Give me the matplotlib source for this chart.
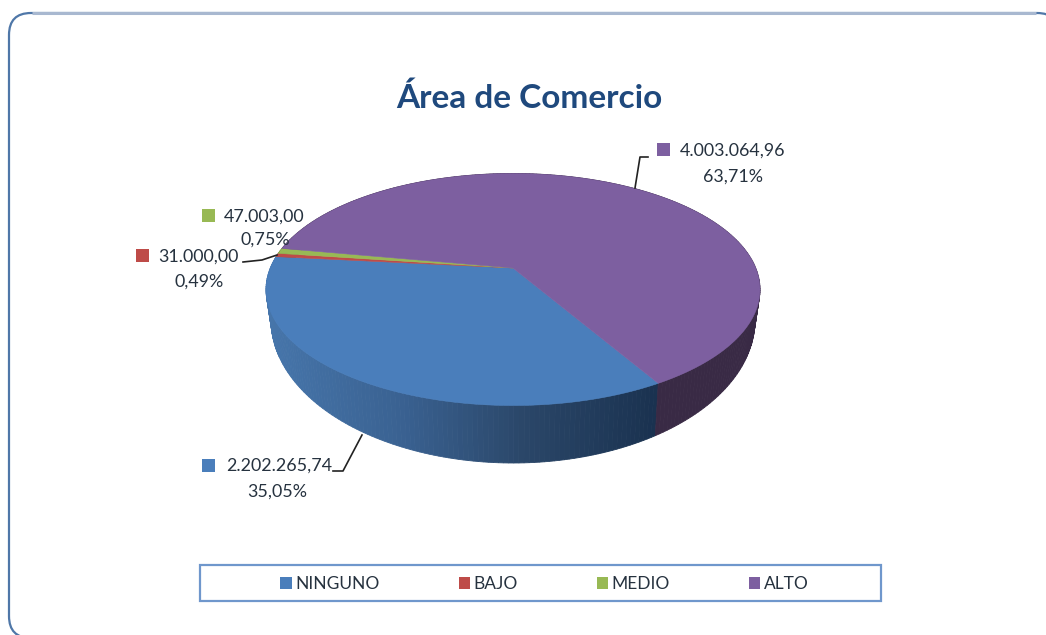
import matplotlib
matplotlib.use("Agg")
import matplotlib.pyplot as plt
import numpy as np
from matplotlib.colors import LinearSegmentedColormap
from matplotlib.patches import FancyBboxPatch, Patch, Rectangle

plt.rcParams['font.family'] = ['Lato', 'DejaVu Sans']

categories = ['NINGUNO', 'BAJO', 'MEDIO', 'ALTO']
values = [2202265.74, 31000.00, 47003.00, 4003064.96]
colors = ['#4a7ebb', '#be4b48', '#98b954', '#7d5fa0']
side_colors = [None, '#5c2523', '#4a5a28', '#392a45']

# gradient on the front of the blue slice, left to right
blue_side = LinearSegmentedColormap.from_list(
    'blue_side', ['#4675aa', '#3a6292', '#2a4668', '#1a3250'])

# label placement: square, text start, percent centre, all per category
label_square = [(202, 459), (136, 249), (202, 209), (657, 143)]
label_text = [(226, 466), (158, 257), (224, 217), (680, 151)]
label_pct = [(277, 492), (199, 282), (265, 240), (733, 177)]
leaders = [
    ([362, 343, 333], [435, 471, 471]),
    ([277, 262, 243], [255, 260, 262]),
    None,
    ([635, 640, 648], [188, 157, 157]),
]

# top face and the wider lower rim of the pie, in pixels
cx, cy, rx, ry = 513, 289.5, 247, 116
low_cy, low_rx, low_ry = 320, 242, 143
apex_y = 268
tilt = 0.093
start_angle = -59.8


def warp(theta):
    # perspective: moves the pie centre towards the back, keeps the rim on the ellipse
    z = np.exp(1j * np.radians(theta))
    w = (z + 1j * tilt) / (1 - 1j * tilt * z)
    return w.real, w.imag


def spanish(v):
    return f'{v:,.2f}'.replace(',', '#').replace('.', ',').replace('#', '.')


fig = plt.figure(figsize=(10.46, 6.35), dpi=100)
ax = fig.add_axes([0, 0, 1, 1])
ax.set_xlim(0, 1046)
ax.set_ylim(635, 0)
ax.axis('off')

# chart frame, it runs off the picture at the right and the bottom
ax.add_patch(FancyBboxPatch((9, 13), 1050, 625, boxstyle='round,pad=0,rounding_size=22',
                            fc='white', ec='#4f77a8', lw=1.6))
ax.plot([32, 1036], [13, 13], color='#a8b8d0', lw=2.2, solid_capstyle='butt')

total = sum(values)
shares = [v / total for v in values]
edges = start_angle - 360 * np.concatenate([[0], np.cumsum(shares)])

# side wall first, the top face covers the back part
for i in range(len(values)):
    n = max(int(abs(edges[i + 1] - edges[i])), 2)
    th = np.linspace(edges[i], edges[i + 1], n + 1)
    c, s = warp(th)
    for j in range(n):
        xs = [cx + rx * c[j], cx + rx * c[j + 1], cx + low_rx * c[j + 1], cx + low_rx * c[j]]
        ys = [cy - ry * s[j], cy - ry * s[j + 1], low_cy - low_ry * s[j + 1], low_cy - low_ry * s[j]]
        if side_colors[i] is None:
            col = blue_side(np.clip((np.mean(xs) - 271) / (655 - 271), 0, 1))
        else:
            col = side_colors[i]
        ax.fill(xs, ys, color=col, lw=0.6, zorder=2)

for i in range(len(values)):
    n = max(int(abs(edges[i + 1] - edges[i])), 2)
    c, s = warp(np.linspace(edges[i], edges[i + 1], n + 1))
    xs = np.concatenate([[cx], cx + rx * c])
    ys = np.concatenate([[apex_y], cy - ry * s])
    ax.fill(xs, ys, color=colors[i], lw=0.4, zorder=3)

# data labels
for i in range(len(values)):
    sx, sy = label_square[i]
    ax.add_patch(Rectangle((sx, sy), 13, 13, fc=colors[i], ec='none', zorder=4))
    ax.text(label_text[i][0], label_text[i][1], spanish(values[i]), fontsize=12.9,
            color='#26323f', ha='left', va='center', zorder=5)
    ax.text(label_pct[i][0], label_pct[i][1], f'{shares[i] * 100:.2f}%'.replace('.', ','),
            fontsize=12.9, color='#26323f', ha='center', va='center', zorder=5)
    if leaders[i] is not None:
        ax.plot(leaders[i][0], leaders[i][1], color='#222222', lw=1.2, zorder=4)

ax.text(529, 98, 'Área de Comercio', fontsize=24, fontweight='bold', color='#1f497d',
        ha='center', va='center')

# legend box is wider than its entries, so it is drawn on its own
ax.add_patch(Rectangle((200, 565), 681, 36, fc='white', ec='#6f97cc', lw=1.6, zorder=4))
handles = [Patch(fc=col, ec='none') for col in colors]
leg = ax.legend(handles, categories, ncols=4, loc='center', frameon=False,
                bbox_to_anchor=(544.5, 584), bbox_transform=ax.transData,
                prop={'size': 12.5}, labelcolor='#26323f', handlelength=0.65,
                handleheight=0.7, handletextpad=0.2, columnspacing=4.55,
                borderpad=0, borderaxespad=0)
leg.set_zorder(5)

fig.savefig('out.png', dpi=100)
